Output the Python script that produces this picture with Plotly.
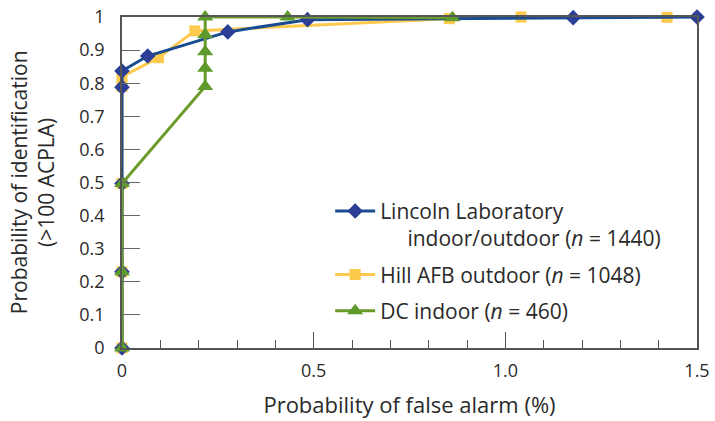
import plotly.graph_objects as go

# Data
lincoln_x = [0, 0, 0, 0, 0, 0.067, 0.276, 0.484, 1.177, 1.5]
lincoln_y = [0, 0.23, 0.497, 0.788, 0.837, 0.882, 0.955, 0.992, 0.998, 1.0]

hill_x = [0, 0, 0, 0, 0, 0.095, 0.19, 0.854, 1.041, 1.422]
hill_y = [0, 0.23, 0.497, 0.79, 0.82, 0.877, 0.958, 0.995, 1.0, 0.999]

dc_x = [0, 0, 0, 0.217, 0.217, 0.217, 0.217, 0.217, 0.432, 0.862]
dc_y = [0, 0.23, 0.497, 0.79, 0.845, 0.895, 0.946, 1.0, 1.0, 0.998]

names = ["Lincoln Laboratory<br>\u00a0\u00a0\u00a0\u00a0\u00a0indoor/outdoor (<i>n</i> = 1440)",
         "Hill AFB outdoor (<i>n</i> = 1048)",
         "DC indoor (<i>n</i> = 460)"]

x_tickvals = [0, 0.5, 1.0, 1.5]
x_ticktext = ["0", "0.5", "1.0", "1.5"]

FONT = "Open Sans"
TXT = "#2a2a2a"

fig = go.Figure()
fig.add_trace(go.Scatter(x=hill_x, y=hill_y, name=names[1], mode="lines+markers",
                         line=dict(color="#fdca4d", width=3),
                         marker=dict(symbol="square", size=11, color="#fdca4d"),
                         cliponaxis=False, legendrank=2, legendgroup="b"))
fig.add_trace(go.Scatter(x=lincoln_x, y=lincoln_y, name=names[0], mode="lines+markers",
                         line=dict(color="#1a4c91", width=3),
                         marker=dict(symbol="diamond", size=12, color="#2b3f97"),
                         cliponaxis=False, legendrank=1, legendgroup="a"))
fig.add_trace(go.Scatter(x=dc_x, y=dc_y, name=names[2], mode="lines+markers",
                         line=dict(color="#6b9b2b", width=3),
                         marker=dict(symbol="triangle-up", size=14, color="#5f9a2c"),
                         cliponaxis=False, legendrank=3, legendgroup="c"))

fig.update_layout(
    width=715, height=421,
    margin=dict(l=122, r=18, t=17, b=73, autoexpand=False),
    paper_bgcolor="white", plot_bgcolor="white",
    font=dict(family=FONT, size=21, color=TXT),
    showlegend=True,
    legend=dict(x=0.362, y=0.475, xanchor="left", yanchor="top",
                bgcolor="rgba(0,0,0,0)", font=dict(size=21, color=TXT),
                itemwidth=40, valign="top", tracegroupgap=6),
    xaxis=dict(range=[0, 1.5], showgrid=False, zeroline=False, automargin=False,
               showline=True, linecolor="#555", linewidth=1.5, mirror=True,
               tickvals=x_tickvals, ticktext=x_ticktext, ticklabeloverflow="allow",
               ticks="inside", ticklen=16, tickcolor="#555", tickwidth=1,
               minor=dict(dtick=0.1, ticks="inside", ticklen=8, tickcolor="#555"),
               ticklabelstandoff=6, tickfont=dict(size=18),
               title=dict(text="Probability of false alarm (%)", font=dict(size=22), standoff=16)),
    yaxis=dict(range=[0, 1], showgrid=False, zeroline=False, automargin=False,
               showline=True, linecolor="#555", linewidth=1.5, mirror=True,
               dtick=0.1, tick0=0, tickfont=dict(size=18), ticklabeloverflow="allow",
               ticks="inside", ticklen=18, tickcolor="#666", tickwidth=1,
               ticklabelstandoff=12),
    annotations=[dict(text="Probability of identification<br>(>100 ACPLA)",
                      xref="paper", yref="paper", x=-0.104, y=0.5,
                      xanchor="right", yanchor="middle", textangle=-90,
                      showarrow=False, font=dict(size=21, color=TXT))],
)

fig.write_html("out.html", config={"displayModeBar": False},
               post_script="document.body.style.margin='0';")
